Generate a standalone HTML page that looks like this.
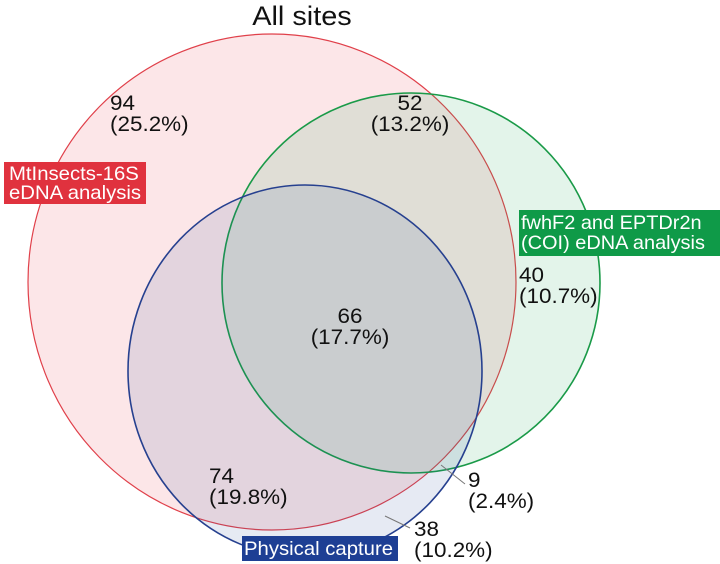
<!DOCTYPE html>
<html><head><meta charset="utf-8"><style>
html,body{margin:0;padding:0;background:#fff;}
svg{display:block;font-family:"Liberation Sans",Arial,sans-serif;}
</style></head><body>
<svg width="720" height="564" viewBox="0 0 720 564" xmlns="http://www.w3.org/2000/svg">
<ellipse cx="272" cy="282" rx="244" ry="248" fill="#e8404a" fill-opacity="0.13" stroke="#e0404a" stroke-width="1.2"/>
<ellipse cx="411" cy="283" rx="189" ry="190" fill="#2aa860" fill-opacity="0.13" stroke="#1a9a48" stroke-width="1.6"/>
<ellipse cx="305" cy="371" rx="177" ry="186" fill="#3050a0" fill-opacity="0.12" stroke="#26408f" stroke-width="1.6"/>
<text transform="translate(302,25) scale(1.07,1)" font-size="27" text-anchor="middle" fill="#111">All sites</text>
<g font-size="21" fill="#111">
<text transform="translate(110,110) scale(1.07,1)">94</text><text transform="translate(110,131) scale(1.07,1)">(25.2%)</text>
<text transform="translate(410,110) scale(1.07,1)" text-anchor="middle">52</text><text transform="translate(410,131) scale(1.07,1)" text-anchor="middle">(13.2%)</text>
<text transform="translate(519,282) scale(1.07,1)">40</text><text transform="translate(519,303) scale(1.07,1)">(10.7%)</text>
<text transform="translate(350,323) scale(1.07,1)" text-anchor="middle">66</text><text transform="translate(350,344) scale(1.07,1)" text-anchor="middle">(17.7%)</text>
<text transform="translate(209,483) scale(1.07,1)">74</text><text transform="translate(209,504) scale(1.07,1)">(19.8%)</text>
<text transform="translate(468,487) scale(1.07,1)">9</text><text transform="translate(468,508) scale(1.07,1)">(2.4%)</text>
<text transform="translate(414,536) scale(1.07,1)">38</text><text transform="translate(414,557) scale(1.07,1)">(10.2%)</text>
</g>
<line x1="441" y1="465" x2="465" y2="484" stroke="#777" stroke-width="1"/>
<line x1="385" y1="516" x2="410" y2="528" stroke="#777" stroke-width="1"/>
<rect x="4" y="162" width="142" height="42" fill="#e0323e"/>
<text transform="translate(9,180) scale(1.07,1)" font-size="19" fill="#fff">MtInsects-16S</text>
<text transform="translate(9,199) scale(1.07,1)" font-size="19" fill="#fff">eDNA analysis</text>
<rect x="519" y="210" width="201" height="46" fill="#0f9a48"/>
<text transform="translate(521,229) scale(1.05,1)" font-size="19" fill="#fff">fwhF2 and EPTDr2n</text>
<text transform="translate(521,249) scale(1.05,1)" font-size="19" fill="#fff">(COI) eDNA analysis</text>
<rect x="242" y="536" width="156" height="25" fill="#1e3f94"/>
<text transform="translate(244,555) scale(1.07,1)" font-size="19" fill="#fff">Physical capture</text>
</svg>
</body></html>
